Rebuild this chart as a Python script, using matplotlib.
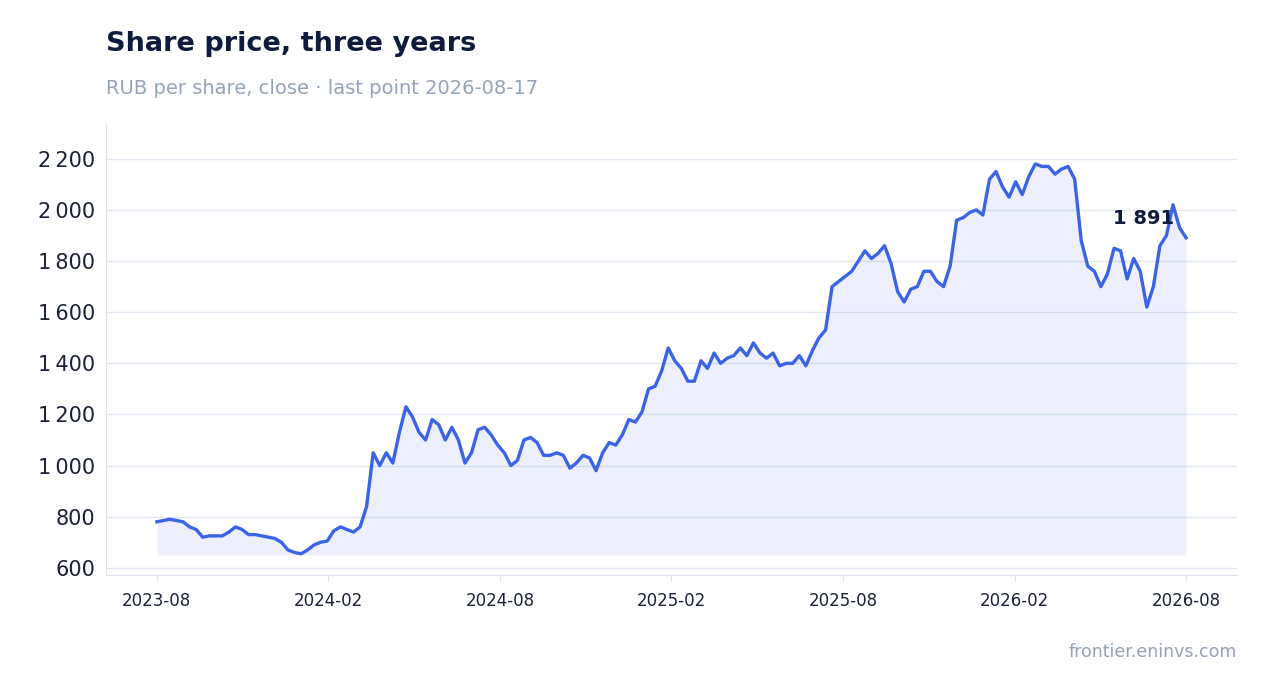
import numpy as np
import matplotlib
matplotlib.use("Agg")
import matplotlib.pyplot as plt
from matplotlib.ticker import FuncFormatter

seg1 = [780, 785, 790, 785, 780, 760, 750, 720, 725, 725, 725, 740, 760, 750, 730, 730, 725, 720, 715, 700, 670, 660, 655, 670, 690, 700, 705]
seg2 = [745, 760, 750, 740, 760, 840, 1050, 1000, 1050, 1010, 1130, 1230, 1190, 1130, 1100, 1180, 1160, 1100, 1150, 1100, 1010, 1050, 1140, 1150, 1120, 1080]
seg3 = [1050, 1000, 1020, 1100, 1110, 1090, 1040, 1040, 1050, 1040, 990, 1010, 1040, 1030, 980, 1050, 1090, 1080, 1120, 1180, 1170, 1210, 1300, 1310, 1370, 1460]
seg4 = [1410, 1380, 1330, 1330, 1410, 1380, 1440, 1400, 1420, 1430, 1460, 1430, 1480, 1440, 1420, 1440, 1390, 1400, 1400, 1430, 1390, 1450, 1500, 1530, 1700, 1720]
seg5 = [1740, 1760, 1800, 1840, 1810, 1830, 1860, 1790, 1680, 1640, 1690, 1700, 1760, 1760, 1720, 1700, 1780, 1960, 1970, 1990, 2000, 1980, 2120, 2150, 2090, 2050]
seg6 = [2110, 2060, 2130, 2180, 2170, 2170, 2140, 2160, 2170, 2120, 1880, 1780, 1760, 1700, 1750, 1850, 1840, 1730, 1810, 1760, 1620, 1700, 1860, 1900, 2020, 1930, 1891]
prices = seg1 + seg2 + seg3 + seg4 + seg5 + seg6
tick_labels = ["2023-08", "2024-02", "2024-08", "2025-02", "2025-08", "2026-02", "2026-08"]
last_label = "1 891"

n_weeks = 156
x = np.linspace(0, n_weeks, len(prices))
y = np.array(prices)

fig = plt.figure(figsize=(12.68, 6.93), dpi=100)
ax = fig.add_axes([0.0836, 0.1703, 0.9755 - 0.0836, 0.8225 - 0.1703])
ax.fill_between(x, 650, y, color="#3b63e6", alpha=0.09, linewidth=0)
ax.plot(x, y, color="#3b63e6", lw=2.4)
ax.set_xlim(-7.7, 163.7)
ax.set_ylim(572, 2340)
ax.set_yticks(range(600, 2201, 200))
ax.yaxis.set_major_formatter(FuncFormatter(lambda v, p: f"{int(v):,}".replace(",", "\u2009")))
ax.set_xticks(np.arange(0, 157, 26))
ax.set_xticklabels(tick_labels)
ax.grid(axis="y", color="#e2e6f0", lw=1)
ax.set_axisbelow(True)
for s in ["top", "right"]:
    ax.spines[s].set_visible(False)
for s in ["left", "bottom"]:
    ax.spines[s].set_color("#dde1ea")
ax.tick_params(axis="y", length=0, labelsize=15, colors="#1b2236", pad=8)
ax.tick_params(axis="x", length=4, color="#dde1ea", labelsize=12, labelcolor="#1b2236", pad=8)
ax.text(x[-1] - 1.8, y[-1] + 40, last_label, ha="right", va="bottom", fontsize=14,
        fontweight="bold", color="#0f1b3d")

fig.text(106 / 1268, 1 - 44 / 693, "Share price, three years", fontsize=19.5, fontweight="bold",
         color="#0f1b3d", va="center", ha="left")
fig.text(106 / 1268, 1 - 88 / 693, "RUB per share, close · last point 2026-08-17", fontsize=14,
         color="#94a3b8", va="center", ha="left")
fig.text(1237 / 1268, 1 - 652 / 693, "frontier.eninvs.com", fontsize=12.5, color="#94a3b8",
         va="center", ha="right")
fig.savefig("out.png", dpi=100)
